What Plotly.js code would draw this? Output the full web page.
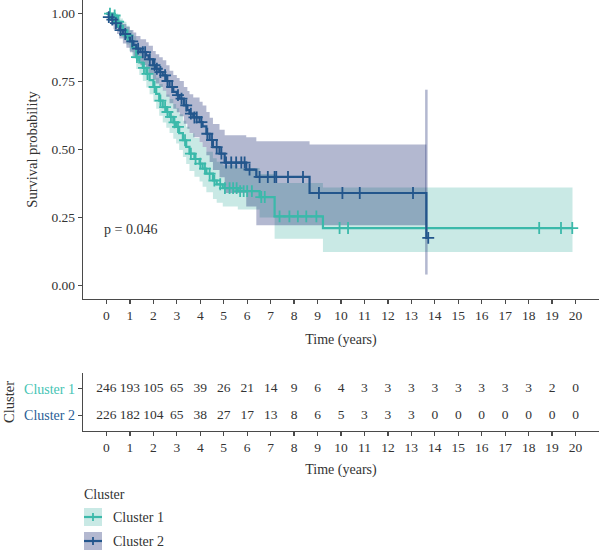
<!DOCTYPE html>
<html>
<head>
<meta charset="utf-8">
<script src="https://cdn.plot.ly/plotly-3.0.1.min.js"></script>
<style>html,body{margin:0;padding:0;background:#fff;}#chart{width:600px;height:551px;}</style>
</head>
<body>
<div id="chart"></div>
<script>
// ---------- data ----------
const clusterNames = ["Cluster 1", "Cluster 2"];

// Cluster 1 Kaplan-Meier steps
const c1Time = [0,0.3,0.41,0.5,0.6,0.7,0.85,0.98,1.1,1.27,1.4,1.55,1.7,1.84,2.0,2.12,2.25,2.4,2.55,2.69,2.85,2.97,3.1,3.26,3.4,3.54,3.75,3.97,4.1,4.26,4.54,4.7,4.96,5.6,6.53,7.17,9.23,19.87];
const c1Surv = [1,0.993,0.985,0.97,0.955,0.939,0.92,0.9,0.875,0.84,0.82,0.8,0.778,0.755,0.73,0.705,0.68,0.656,0.638,0.62,0.6,0.583,0.56,0.534,0.51,0.485,0.465,0.448,0.43,0.411,0.386,0.372,0.358,0.347,0.325,0.254,0.211,0.211];
const c1Upper = [1,1,1,0.99,0.982,0.97,0.955,0.938,0.917,0.886,0.868,0.85,0.83,0.81,0.787,0.764,0.741,0.719,0.702,0.686,0.667,0.652,0.63,0.606,0.584,0.56,0.542,0.526,0.509,0.492,0.468,0.455,0.442,0.432,0.41,0.377,0.36,0.36];
const c1Lower = [1,0.983,0.97,0.95,0.929,0.909,0.886,0.863,0.835,0.796,0.774,0.752,0.728,0.703,0.676,0.65,0.624,0.599,0.58,0.561,0.54,0.522,0.498,0.472,0.447,0.421,0.4,0.382,0.363,0.343,0.318,0.304,0.29,0.279,0.25,0.172,0.123,0.123];
const c1Censor = [0.15,0.35,0.5,0.9,1.3,1.6,1.75,2.05,2.3,2.5,2.6,2.75,2.9,3.05,3.35,3.6,3.8,4.0,4.2,4.4,4.6,4.85,5.05,5.25,5.4,5.55,5.7,5.85,6.0,6.2,6.6,6.75,7.38,7.8,8.16,8.52,8.95,9.94,10.3,18.45,19.38,19.86];

// Cluster 2 Kaplan-Meier steps
const c2Time = [0,0.1,0.2,0.3,0.45,0.55,0.7,0.85,1.0,1.15,1.27,1.45,1.69,1.8,1.98,2.1,2.25,2.4,2.55,2.69,2.85,3.0,3.12,3.3,3.45,3.54,3.7,3.97,4.1,4.26,4.4,4.54,4.82,5.04,5.96,6.39,8.66,13.64,13.72];
const c2Surv = [1,0.987,0.978,0.965,0.952,0.939,0.925,0.912,0.898,0.885,0.871,0.858,0.846,0.832,0.81,0.797,0.785,0.773,0.752,0.73,0.712,0.7,0.687,0.662,0.645,0.632,0.618,0.601,0.585,0.558,0.535,0.509,0.485,0.452,0.426,0.399,0.34,0.175,0.175];
const c2CiTime = [0,0.1,0.2,0.3,0.45,0.55,0.7,0.85,1.0,1.15,1.27,1.45,1.69,1.8,1.98,2.1,2.25,2.4,2.55,2.69,2.85,3.0,3.12,3.3,3.45,3.54,3.7,3.97,4.1,4.26,4.4,4.54,4.82,5.04,5.96,6.39,8.66,13.64];
const c2Upper = [1,1,1,0.99,0.98,0.972,0.962,0.952,0.94,0.93,0.918,0.906,0.895,0.882,0.862,0.85,0.839,0.828,0.81,0.79,0.774,0.763,0.752,0.73,0.715,0.703,0.691,0.676,0.662,0.638,0.617,0.594,0.573,0.552,0.545,0.53,0.518,0.72];
const c2Lower = [1,0.972,0.959,0.942,0.925,0.908,0.89,0.874,0.858,0.842,0.826,0.811,0.797,0.781,0.757,0.743,0.73,0.717,0.694,0.67,0.65,0.637,0.622,0.595,0.576,0.561,0.545,0.527,0.509,0.479,0.454,0.425,0.398,0.34,0.29,0.221,0.221,0.04];
const c2Censor = [0.1,0.25,0.4,0.6,0.8,1.1,1.35,1.55,1.65,1.85,2.05,2.15,2.3,2.5,2.6,2.8,3.05,3.2,3.4,3.6,3.75,3.85,4.05,4.3,4.5,4.7,4.9,5.1,5.32,5.53,5.75,5.89,6.1,6.53,6.88,7.17,7.24,7.74,8.38,9.06,10.06,10.8,13.07,13.72];

// Number at risk table
const riskTimes = [0,1,2,3,4,5,6,7,8,9,10,11,12,13,14,15,16,17,18,19,20];
const riskC1 = [246,193,105,65,39,26,21,14,9,6,4,3,3,3,3,3,3,3,3,2,0];
const riskC2 = [226,182,104,65,38,27,17,13,8,6,5,3,3,3,0,0,0,0,0,0,0];

const yTickVals = [0,0.25,0.5,0.75,1];
const yTickText = ["0.00","0.25","0.50","0.75","1.00"];
const pValueText = "p = 0.046";

// ---------- styling ----------
const FONT = "Liberation Serif, Times New Roman, serif";
const TXT = "#333333";
const AX = "#4a4a4a";
const c1Line = "#3bb9aa", c2Line = "#23568c";
const c1Fill = "rgba(60,175,160,0.28)", c2Fill = "rgba(20,35,110,0.32)";
const c1Label = "#45c4b4", c2Label = "#2a5d96";
const W = 600, H = 551;
const px = v => v / W, py = v => (H - v) / H;

function survAt(times, surv, t) {
  let s = surv[0];
  for (let i = 0; i < times.length; i++) { if (times[i] <= t) s = surv[i]; }
  return s;
}

const traces = [];
// confidence bands
traces.push({x:c1Time, y:c1Lower, mode:"lines", line:{shape:"hv", width:0, color:c1Fill}, hoverinfo:"skip", showlegend:false});
traces.push({x:c1Time, y:c1Upper, mode:"lines", line:{shape:"hv", width:0, color:c1Fill}, fill:"tonexty", fillcolor:c1Fill, hoverinfo:"skip", showlegend:false});
traces.push({x:c2CiTime, y:c2Lower, mode:"lines", line:{shape:"hv", width:0, color:c2Fill}, hoverinfo:"skip", showlegend:false});
traces.push({x:c2CiTime, y:c2Upper, mode:"lines", line:{shape:"hv", width:0, color:c2Fill}, fill:"tonexty", fillcolor:c2Fill, hoverinfo:"skip", showlegend:false});
const nL = c2CiTime.length - 1;
traces.push({x:[c2CiTime[nL], c2CiTime[nL]], y:[c2Lower[nL], c2Upper[nL]], mode:"lines", line:{width:2.5, color:c2Fill}, hoverinfo:"skip", showlegend:false});
// survival curves
traces.push({x:c1Time, y:c1Surv, mode:"lines", line:{shape:"hv", width:2.2, color:c1Line}, name:clusterNames[0], showlegend:false});
traces.push({x:c2Time, y:c2Surv, mode:"lines", line:{shape:"hv", width:2.2, color:c2Line}, name:clusterNames[1], showlegend:false});
// censor marks
traces.push({x:c1Censor, y:c1Censor.map(t => survAt(c1Time, c1Surv, t)), mode:"markers",
  marker:{symbol:"cross-thin", size:8.5, line:{width:1.8, color:c1Line}, color:c1Line}, hoverinfo:"skip", showlegend:false});
traces.push({x:c2Censor, y:c2Censor.map(t => survAt(c2Time, c2Surv, t)), mode:"markers",
  marker:{symbol:"cross-thin", size:8.5, line:{width:1.8, color:c2Line}, color:c2Line}, hoverinfo:"skip", showlegend:false});
// risk table
traces.push({x:riskTimes, y:riskTimes.map(() => 2), text:riskC1.map(String), mode:"text", xaxis:"x2", yaxis:"y2",
  textfont:{family:FONT, size:13.5, color:TXT}, hoverinfo:"skip", showlegend:false});
traces.push({x:riskTimes, y:riskTimes.map(() => 1), text:riskC2.map(String), mode:"text", xaxis:"x2", yaxis:"y2",
  textfont:{family:FONT, size:13.5, color:TXT}, hoverinfo:"skip", showlegend:false});

const xDomain = [px(83), px(599)];
const commonX = {
  range:[-1,21], tickmode:"array", tickvals:riskTimes, ticktext:riskTimes.map(String),
  ticks:"outside", ticklen:4, tickwidth:1.2, tickcolor:AX, showline:true, linecolor:AX, linewidth:1.2,
  showgrid:false, zeroline:false, tickfont:{family:FONT, size:13.5, color:TXT}, fixedrange:true
};

const layout = {
  width:W, height:H, margin:{l:0, r:0, t:0, b:0}, paper_bgcolor:"#fff", plot_bgcolor:"#fff",
  font:{family:FONT, color:TXT, size:13.5}, showlegend:false,
  xaxis:Object.assign({}, commonX, {domain:xDomain, anchor:"y",
    title:{text:"Time (years)", font:{family:FONT, size:14, color:TXT}, standoff:11}}),
  yaxis:{domain:[py(299), 1], anchor:"x", range:[-0.05,1.05], tickmode:"array", tickvals:yTickVals, ticktext:yTickText,
    ticks:"outside", ticklen:4, tickwidth:1.2, tickcolor:AX, showline:true, linecolor:AX, linewidth:1.2,
    showgrid:false, zeroline:false, tickfont:{family:FONT, size:13.5, color:TXT},
    title:{text:"Survival probability", font:{family:FONT, size:14.5, color:TXT}, standoff:10}},
  xaxis2:Object.assign({}, commonX, {domain:xDomain, anchor:"y2",
    title:{text:"Time (years)", font:{family:FONT, size:14, color:TXT}, standoff:9}}),
  yaxis2:{domain:[py(431), py(373)], anchor:"x2", range:[0.4,2.6], tickmode:"array", tickvals:[2,1],
    ticktext:['<span style="color:' + c1Label + '">' + clusterNames[0] + '</span>',
              '<span style="color:' + c2Label + '">' + clusterNames[1] + '</span>'],
    ticks:"outside", ticklen:4, tickwidth:1.2, tickcolor:AX, showline:true, linecolor:AX, linewidth:1.2,
    showgrid:false, zeroline:false, tickfont:{family:FONT, size:14, color:TXT},
    title:{text:"Cluster", font:{family:FONT, size:14.5, color:TXT}, standoff:6}},
  annotations:[
    {x:-0.2, y:0.205, xref:"x", yref:"y", text:pValueText, showarrow:false, xanchor:"left", yanchor:"middle",
     font:{family:FONT, size:14, color:TXT}},
    {x:px(82), y:py(494), xref:"paper", yref:"paper", text:"Cluster", showarrow:false, xanchor:"left", yanchor:"middle",
     font:{family:FONT, size:14, color:TXT}},
    {x:px(111), y:py(517), xref:"paper", yref:"paper", text:clusterNames[0], showarrow:false, xanchor:"left", yanchor:"middle",
     font:{family:FONT, size:14, color:TXT}},
    {x:px(111), y:py(541), xref:"paper", yref:"paper", text:clusterNames[1], showarrow:false, xanchor:"left", yanchor:"middle",
     font:{family:FONT, size:14, color:TXT}}
  ],
  shapes:[
    {type:"rect", xref:"paper", yref:"paper", x0:px(84), x1:px(102), y0:py(526), y1:py(508), fillcolor:c1Fill, line:{width:0}},
    {type:"line", xref:"paper", yref:"paper", x0:px(84), x1:px(102), y0:py(517), y1:py(517), line:{color:c1Line, width:2.2}},
    {type:"line", xref:"paper", yref:"paper", x0:px(93), x1:px(93), y0:py(521), y1:py(513), line:{color:c1Line, width:1.8}},
    {type:"rect", xref:"paper", yref:"paper", x0:px(84), x1:px(102), y0:py(550), y1:py(532), fillcolor:c2Fill, line:{width:0}},
    {type:"line", xref:"paper", yref:"paper", x0:px(84), x1:px(102), y0:py(541), y1:py(541), line:{color:c2Line, width:2.2}},
    {type:"line", xref:"paper", yref:"paper", x0:px(93), x1:px(93), y0:py(545), y1:py(537), line:{color:c2Line, width:1.8}}
  ]
};

Plotly.newPlot("chart", traces, layout, {staticPlot:true, displayModeBar:false});
</script>
</body>
</html>
